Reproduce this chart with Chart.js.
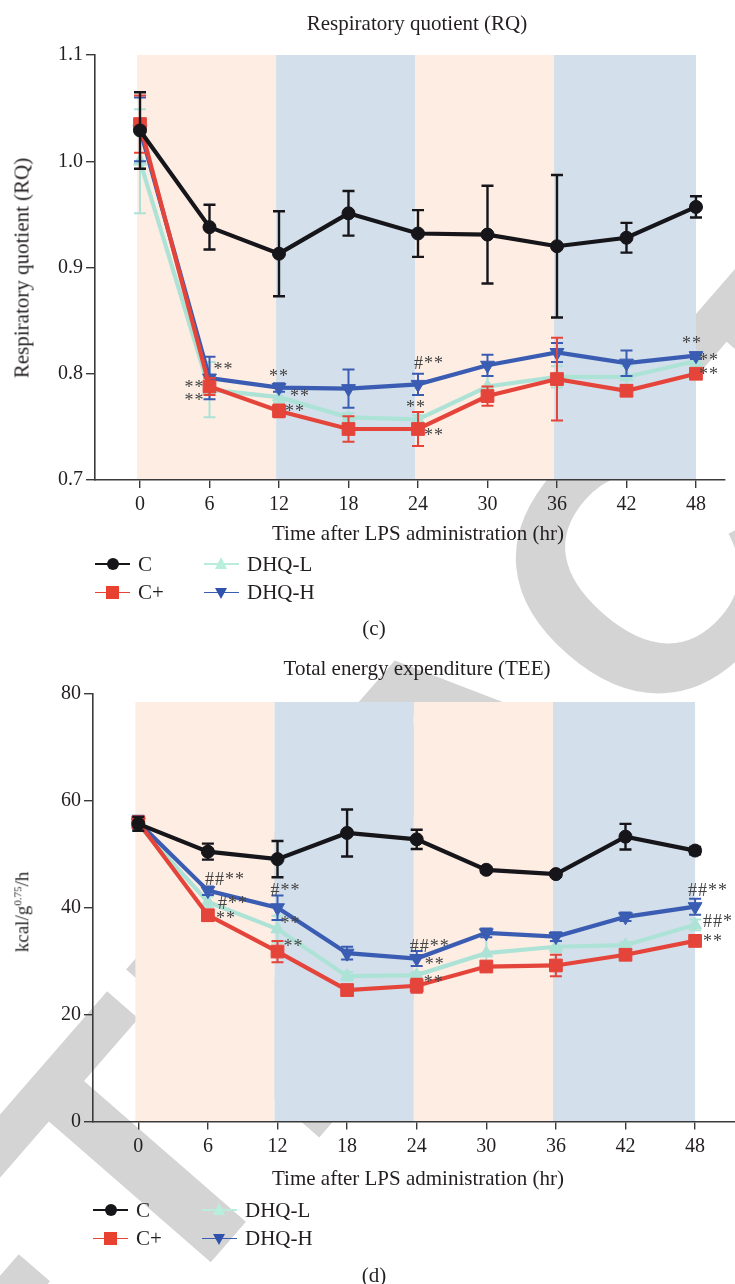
<!DOCTYPE html>
<html><head><meta charset="utf-8">
<script src="https://cdn.jsdelivr.net/npm/chart.js@4.4.0/dist/chart.umd.min.js"></script>
<style>
html,body{margin:0;padding:0;background:#fff;}
body{width:735px;height:1284px;position:relative;overflow:hidden;font-family:"Liberation Serif","DejaVu Serif",serif;color:#231f20;}
#wm{position:absolute;left:0;top:0;z-index:0;}
.cv{position:absolute;left:0;z-index:1;}
.t{position:absolute;z-index:2;white-space:nowrap;line-height:1;}
.ct{transform:translate(-50%,-50%);}
.rot{transform:translate(-50%,-50%) rotate(-90deg);}
.lgl{position:absolute;z-index:2;height:1.6px;}
.mk{position:absolute;z-index:3;}
</style></head>
<body>
<canvas id="wm" width="735" height="1284"></canvas>
<div class="cv" style="top:0px;width:735px;height:520px;"><canvas id="c1"></canvas></div>
<div class="cv" style="top:640px;width:735px;height:522px;"><canvas id="c2"></canvas></div>

<div class="t ct" style="left:417px;top:23px;font-size:21px;">Respiratory quotient (RQ)</div>
<div class="t rot" style="left:22px;top:268px;font-size:21px;">Respiratory quotient (RQ)</div>
<div class="t ct" style="left:418px;top:533px;font-size:21px;">Time after LPS administration (hr)</div>
<div class="t ct" style="left:374px;top:628px;font-size:21px;">(c)</div>

<div class="t ct" style="left:417px;top:668px;font-size:21px;">Total energy expenditure (TEE)</div>
<div class="t rot" style="left:22px;top:912px;font-size:19px;">kcal/g<sup style="font-size:11px;">0.75</sup>/h</div>
<div class="t ct" style="left:418px;top:1178px;font-size:21px;">Time after LPS administration (hr)</div>
<div class="t ct" style="left:374px;top:1275px;font-size:21px;">(d)</div>

<div id="legends"></div>

<script>
// ---------- data ----------
const hours = [0, 6, 12, 18, 24, 30, 36, 42, 48];
const xTickValues = [0, 6, 12, 18, 24, 30, 36, 42, 48];
const seriesNames = ['C', 'C+', 'DHQ-L', 'DHQ-H'];

// Respiratory quotient (c)
const rqC      = [1.029, 0.938, 0.913, 0.951, 0.932, 0.931, 0.920, 0.928, 0.957];
const rqCErr   = [0.036, 0.021, 0.040, 0.021, 0.022, 0.046, 0.067, 0.014, 0.010];
const rqCp     = [1.035, 0.788, 0.765, 0.748, 0.748, 0.779, 0.795, 0.784, 0.800];
const rqCpErr  = [0.027, 0.008, 0.006, 0.012, 0.016, 0.009, 0.039, 0.005, 0.004];
const rqL      = [1.000, 0.785, 0.778, 0.759, 0.757, 0.788, 0.797, 0.797, 0.812];
const rqLErr   = [0.049, 0.026, 0.005, 0.004, 0.004, 0.010, 0.010, 0.010, 0.005];
const rqH      = [1.030, 0.796, 0.787, 0.786, 0.790, 0.808, 0.820, 0.810, 0.817];
const rqHErr   = [0.030, 0.020, 0.004, 0.018, 0.010, 0.010, 0.009, 0.012, 0.003];
const rqYTicks = [0.7, 0.8, 0.9, 1.0, 1.1];

// Total energy expenditure (d)
const teeC     = [55.7, 50.5, 49.1, 54.0, 52.8, 47.1, 46.3, 53.3, 50.7];
const teeCErr  = [1.3, 1.5, 3.4, 4.4, 1.8, 0.5, 0.5, 2.4, 0.7];
const teeCp    = [56.0, 38.6, 31.8, 24.6, 25.4, 29.0, 29.2, 31.2, 33.8];
const teeCpErr = [1.0, 1.0, 2.0, 0.8, 1.3, 0.6, 2.0, 0.6, 1.0];
const teeL     = [55.5, 41.1, 36.0, 27.2, 27.4, 31.5, 32.7, 33.0, 36.8];
const teeLErr  = [1.0, 1.0, 2.5, 0.8, 0.6, 3.5, 1.0, 0.6, 1.0];
const teeH     = [56.0, 43.2, 40.0, 31.5, 30.5, 35.3, 34.6, 38.3, 40.2];
const teeHErr  = [1.2, 0.8, 2.3, 1.2, 1.4, 0.8, 0.8, 0.8, 1.5];
const teeYTicks = [0, 20, 40, 60, 80];

// light/dark phase bands (hours)
const bandStarts = [-0.25, 11.75, 23.75, 35.75];
const bandEnds   = [11.75, 23.75, 35.75, 48];

// significance marks: [series, point index, text]
const rqMarks = [
  ['DHQ-H', 1, '**'], ['C+', 1, '**'], ['DHQ-L', 1, '**'],
  ['DHQ-H', 2, '**'], ['DHQ-L', 2, '**'], ['C+', 2, '**'],
  ['DHQ-H', 4, '#**'], ['DHQ-L', 4, '**'], ['C+', 4, '**'],
  ['DHQ-H', 8, '**'], ['DHQ-L', 8, '**'], ['C+', 8, '**']
];
const teeMarks = [
  ['DHQ-H', 1, '##**'], ['DHQ-L', 1, '#**'], ['C+', 1, '**'],
  ['DHQ-H', 2, '#**'], ['DHQ-L', 2, '**'], ['C+', 2, '**'],
  ['DHQ-H', 4, '##**'], ['DHQ-L', 4, '**'], ['C+', 4, '**'],
  ['DHQ-H', 8, '##**'], ['DHQ-L', 8, '##*'], ['C+', 8, '**']
];
// ---------- styles ----------
// placement of each mark relative to its point: [dx, dy, align]
const rqMarkPos = [
  [4, -10, 'left'], [-5, 0, 'right'], [-5, 10, 'right'],
  [0, -12, 'center'], [11, -2, 'left'], [6, -1, 'left'],
  [-4, -22, 'left'], [-2, -13, 'center'], [6, 5, 'left'],
  [-4, -13, 'center'], [3, -2, 'left'], [3, 0, 'left']
];
const teeMarkPos = [
  [-3, -12, 'left'], [10, 0, 'left'], [8, 2, 'left'],
  [-7, -18, 'left'], [3, -7, 'left'], [6, -6, 'left'],
  [-7, -13, 'left'], [8, -12, 'left'], [7, -5, 'left'],
  [-7, -17, 'left'], [8, -5, 'left'], [8, -1, 'left']
];

const COL = {
  'C': '#15151a', 'C+': '#e5443a', 'DHQ-L': '#ade3d6', 'DHQ-H': '#3a5cb2'
};
const PT = {
  'C': {style: 'circle', r: 6.5, rot: 0},
  'C+': {style: 'rect', r: 9, rot: 0},
  'DHQ-L': {style: 'triangle', r: 7.5, rot: 0},
  'DHQ-H': {style: 'triangle', r: 8, rot: 180}
};
const serif = '"Liberation Serif", "DejaVu Serif", serif';

// ---------- watermark ----------
(function () {
  const ctx = document.getElementById('wm').getContext('2d');
  const S = 372, theta = 49 * Math.PI / 180;
  ctx.font = 'bold ' + S + 'px "Liberation Sans", Arial, sans-serif';
  ctx.fillStyle = '#d4d4d4';
  const word = 'RETRACTED';
  const pre = ctx.measureText(word.slice(0, 5)).width;
  const wC = ctx.measureText('C').width;
  ctx.save();
  ctx.translate(643, 562);
  ctx.rotate(-theta);
  ctx.fillText(word, -(pre + wC / 2), 0.716 * S / 2);
  ctx.restore();
})();

// ---------- plugins ----------
const bandPlugin = {
  id: 'bands',
  beforeDraw(chart, args, opts) {
    const {ctx, scales: {x, y}} = chart;
    ctx.save();
    for (let i = 0; i < bandStarts.length; i++) {
      const x0 = x.getPixelForValue(bandStarts[i]);
      const x1 = x.getPixelForValue(bandEnds[i]);
      const y0 = y.getPixelForValue(opts.top);
      const y1 = y.getPixelForValue(opts.bottom);
      ctx.fillStyle = i % 2 === 0 ? '#fdede3' : '#d3dfea';
      ctx.fillRect(x0, y0, x1 - x0, y1 - y0);
    }
    ctx.restore();
  }
};
const errPlugin = {
  id: 'errbars',
  beforeDatasetDraw(chart, args) {
    const ds = chart.data.datasets[args.index];
    const meta = args.meta;
    const y = chart.scales.y;
    const ctx = chart.ctx;
    ctx.save();
    ctx.strokeStyle = ds.borderColor;
    ctx.lineWidth = ds.label === 'C' ? 2.4 : 2;
    meta.data.forEach((pt, i) => {
      const v = ds.data[i].y, e = ds.errors[i];
      if (!e) return;
      const yt = y.getPixelForValue(v + e), yb = y.getPixelForValue(v - e);
      ctx.beginPath();
      ctx.moveTo(pt.x, yt); ctx.lineTo(pt.x, yb);
      ctx.moveTo(pt.x - 6, yt); ctx.lineTo(pt.x + 6, yt);
      ctx.moveTo(pt.x - 6, yb); ctx.lineTo(pt.x + 6, yb);
      ctx.stroke();
    });
    ctx.restore();
  }
};
const markPlugin = {
  id: 'marks',
  afterDatasetsDraw(chart, args, opts) {
    const ctx = chart.ctx;
    ctx.save();
    ctx.font = '18px ' + serif;
    ctx.fillStyle = '#444';
    ctx.textBaseline = 'middle';
    try { ctx.letterSpacing = '1px'; } catch (e) {}
    opts.marks.forEach((m, k) => {
      const di = chart.data.datasets.findIndex(d => d.label === m[0]);
      const pt = chart.getDatasetMeta(di).data[m[1]];
      const p = opts.pos[k];
      ctx.textAlign = p[2];
      ctx.fillText(m[2], pt.x + p[0], pt.y + p[1] + 2);
    });
    try { ctx.letterSpacing = '0px'; } catch (e) {}
    ctx.restore();
  }
};

function mkDataset(name, vals, errs) {
  return {
    label: name,
    data: hours.map((h, i) => ({x: h, y: vals[i]})),
    errors: errs,
    borderColor: COL[name],
    backgroundColor: COL[name],
    pointBackgroundColor: COL[name],
    pointBorderColor: COL[name],
    pointBorderWidth: 1,
    borderWidth: 4.2,
    pointStyle: PT[name].style,
    pointRadius: PT[name].r,
    pointRotation: PT[name].rot,
    tension: 0,
    clip: false
  };
}

function mkChart(id, sets, yTicks, yMin, yMax, xMin, xMax, yWidth, padTop, padRight, xH, bandTop, marks, pos, fmt) {
  return new Chart(document.getElementById(id), {
    type: 'line',
    data: {datasets: sets},
    options: {
      responsive: true, maintainAspectRatio: false, animation: false,
      devicePixelRatio: 1,
      layout: {autoPadding: false, padding: {top: padTop, right: padRight, left: 0, bottom: 0}},
      plugins: {
        legend: {display: false}, tooltip: {enabled: false},
        bands: {top: bandTop, bottom: yMin},
        marks: {marks: marks, pos: pos}
      },
      scales: {
        x: {
          type: 'linear', min: xMin, max: xMax,
          afterBuildTicks: s => { s.ticks = xTickValues.map(v => ({value: v})); },
          afterFit: s => { s.height = xH; },
          grid: {display: true, drawOnChartArea: false, drawTicks: true, tickLength: 8, color: '#3a3a3a', lineWidth: 1.4},
          border: {display: true, color: '#3a3a3a', width: 1.6},
          ticks: {color: '#231f20', font: {family: serif, size: 20}, padding: 5, maxRotation: 0, autoSkip: false}
        },
        y: {
          type: 'linear', min: yMin, max: yMax,
          afterBuildTicks: s => { s.ticks = yTicks.map(v => ({value: v})); },
          afterFit: s => { s.width = yWidth; },
          grid: {display: true, drawOnChartArea: false, drawTicks: true, tickLength: 9, color: '#3a3a3a', lineWidth: 1.4},
          border: {display: true, color: '#3a3a3a', width: 1.6},
          ticks: {color: '#231f20', font: {family: serif, size: 20}, padding: 3, callback: fmt}
        }
      }
    },
    plugins: [bandPlugin, errPlugin, markPlugin]
  });
}

mkChart('c1', [
  mkDataset('C', rqC, rqCErr), mkDataset('C+', rqCp, rqCpErr),
  mkDataset('DHQ-H', rqH, rqHErr), mkDataset('DHQ-L', rqL, rqLErr)
], rqYTicks, 0.7, 1.1, -3.885, 50.505, 95, 55, 10, 40, 1.1, rqMarks, rqMarkPos, v => v.toFixed(1));

mkChart('c2', [
  mkDataset('C', teeC, teeCErr), mkDataset('C+', teeCp, teeCpErr),
  mkDataset('DHQ-H', teeH, teeHErr), mkDataset('DHQ-L', teeL, teeLErr)
], teeYTicks, 0, 80, -3.905, 51.44, 93, 54, 0, 40.5, 78.5, teeMarks, teeMarkPos, v => String(v));

// ---------- legends ----------
function legend(left, top) {
  const box = document.getElementById('legends');
  const layout = [[0, 0], [0, 28.5], [109, 0], [109, 28.5]];
  seriesNames.forEach((n, i) => {
    const [dx, dy] = layout[i];
    const x = left + dx, y = top + dy;
    const ln = document.createElement('div');
    ln.className = 'lgl';
    ln.style.cssText = `left:${x}px;top:${y - 0.8}px;width:35px;background:${n === 'DHQ-L' ? '#b9ecda' : COL[n]};`;
    box.appendChild(ln);
    const mk = document.createElement('div');
    mk.className = 'mk';
    const cx = x + 17.5;
    if (n === 'C') mk.style.cssText = `left:${cx - 6}px;top:${y - 6}px;width:12px;height:12px;border-radius:50%;background:${COL[n]};`;
    else if (n === 'C+') mk.style.cssText = `left:${cx - 6.5}px;top:${y - 6.5}px;width:13px;height:13px;background:#e8412f;`;
    else if (n === 'DHQ-L') mk.style.cssText = `left:${cx - 6.5}px;top:${y - 7}px;width:0;height:0;border-left:6.5px solid transparent;border-right:6.5px solid transparent;border-bottom:12px solid #b7eedc;`;
    else mk.style.cssText = `left:${cx - 6.5}px;top:${y - 5}px;width:0;height:0;border-left:6.5px solid transparent;border-right:6.5px solid transparent;border-top:11px solid #2f52ad;`;
    box.appendChild(mk);
    const tx = document.createElement('div');
    tx.className = 't';
    tx.style.cssText = `left:${x + 43}px;top:${y - 10.5}px;font-size:21px;`;
    tx.textContent = n;
    box.appendChild(tx);
  });
}
legend(95, 564);
legend(93, 1210);
</script>
</body></html>
